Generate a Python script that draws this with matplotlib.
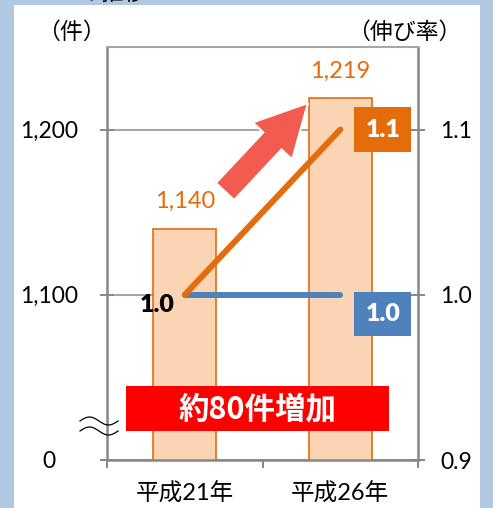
import numpy as np
import matplotlib
matplotlib.use('Agg')
import matplotlib.pyplot as plt
from matplotlib.patches import Rectangle, FancyArrow
from matplotlib.lines import Line2D
from matplotlib.transforms import Affine2D

plt.rcParams['font.family'] = ['Lato', 'Noto Sans CJK JP', 'DejaVu Sans']

# data
years = ['平成21年', '平成26年']
counts = [1140, 1219]
rate_up = [1.0, 1.1]
rate_base = [1.0, 1.0]
count_ticks = [1000, 1100, 1200]
count_tick_labels = ['0', '1,100', '1,200']
rate_ticks = [0.9, 1.0, 1.1]

ORANGE = '#E46C0A'
PEACH = '#FBD4B4'
BLUE = '#4F81BD'
AXIS = '#878787'
GRID = '#A6A6A6'

W, H = 493, 508
fig = plt.figure(figsize=(W / 100, H / 100), dpi=100)
fig.patch.set_facecolor('#B0C8E2')
# image pixel coords (y down) -> figure
pix = Affine2D().scale(1 / W, -1 / H).translate(0, 1) + fig.transFigure

fig.add_artist(Rectangle((14, 5), 466, 510, transform=pix, fc='white', ec='none', zorder=-5))

ax = fig.add_axes([107 / W, 1 - 460 / H, 311 / W, 413 / H])
ax.set_facecolor('none')
x = np.arange(len(years))
bars = ax.bar(x, counts, width=0.405, color=PEACH, edgecolor=ORANGE, linewidth=1.2, zorder=2)
ax.set_xlim(-0.5, 1.5)
ax.set_ylim(1000, 1250)
ax.set_yticks(count_ticks)
ax.set_yticklabels(count_tick_labels)
ax.grid(axis='y', color=GRID, linewidth=1.5, zorder=0)
ax.set_axisbelow(True)
ax.bar_label(bars, labels=[f'{v:,}' for v in counts], padding=12, color=ORANGE, fontsize=17)

ax.set_xticks(x)
ax.set_xticklabels(years, fontsize=17)
ax.set_xticks([-0.5, 0.5, 1.5], minor=True)
ax.tick_params(axis='x', which='major', length=0, pad=16)
ax.tick_params(axis='x', which='minor', length=6, width=1.4, color=AXIS, direction='out')
ax.tick_params(axis='y', length=10, width=1.4, color=AXIS, direction='inout', pad=37, labelsize=16.5)
for lab in ax.get_yticklabels():
    lab.set_ha('center')
for s in ['left', 'right', 'bottom']:
    ax.spines[s].set_color(AXIS)
    ax.spines[s].set_linewidth(1.8)
ax.spines['top'].set_color(GRID)
ax.spines['top'].set_linewidth(1.5)

ax2 = ax.twinx()
ax2.set_ylim(0.9, 1.15)
ax2.set_yticks(rate_ticks)
ax2.set_yticklabels([f'{v:.1f}' for v in rate_ticks])
ax2.tick_params(axis='y', length=10, width=1.4, color=AXIS, direction='inout', pad=11, labelsize=16.5)
for s in ['left', 'right', 'bottom', 'top']:
    ax2.spines[s].set_visible(False)
ax2.plot(x, rate_base, color=BLUE, linewidth=4.3, solid_capstyle='round', zorder=3)
ax2.plot(x, rate_up, color=ORANGE, linewidth=4.3, solid_capstyle='round', zorder=3)

ax2.annotate(f'{rate_up[-1]:.1f}', xy=(x[-1], rate_up[-1]), xytext=(30.6, 0), textcoords='offset points',
             ha='center', va='center', color='white', fontsize=18, fontweight='heavy',
             bbox=dict(boxstyle='square,pad=0.45', fc=ORANGE, ec='none'))
ax2.annotate(f'{rate_base[-1]:.1f}', xy=(x[-1], rate_base[-1]), xytext=(30.6, -13.7), textcoords='offset points',
             ha='center', va='center', color='white', fontsize=18, fontweight='heavy',
             bbox=dict(boxstyle='square,pad=0.45', fc=BLUE, ec='none'))
ax2.annotate(f'{rate_up[0]:.1f}', xy=(x[0], rate_up[0]), xytext=(-19.8, -7.2), textcoords='offset points',
             ha='center', va='center', color='black', fontsize=18, fontweight='heavy')

# axis titles
fig.text(71.5 / W, 1 - 32 / H, '（件）', ha='center', va='center', fontsize=16.5)
fig.text(404 / W, 1 - 32 / H, '（伸び率）', ha='center', va='center', fontsize=16.5)
fig.text(112 / W, 1 - 4 / H, 'の推移', ha='center', va='bottom', fontsize=16)

# big arrow
fig.add_artist(FancyArrow(225, 191.5, 83, -88.5, width=25, head_width=54, head_length=52,
                          length_includes_head=True, transform=pix, fc='#F25C4F', ec='white', lw=1.5))

# highlight box
fig.add_artist(Rectangle((126, 386), 263, 45, transform=pix, fc='#FF0000', ec='none'))
fig.text(257.5, 409, '約80件増加', transform=pix, ha='center', va='center', color='white',
         fontsize=22, fontweight='bold', family=['Noto Sans CJK JP'])

# axis break mark
t = np.linspace(0, 1, 60)
for yc in (421, 431):
    fig.add_artist(Line2D(80 + 38 * t, yc - 4 * np.sin(2 * np.pi * t), transform=pix, color='black', lw=0.9))

fig.savefig('out.png', dpi=100)
